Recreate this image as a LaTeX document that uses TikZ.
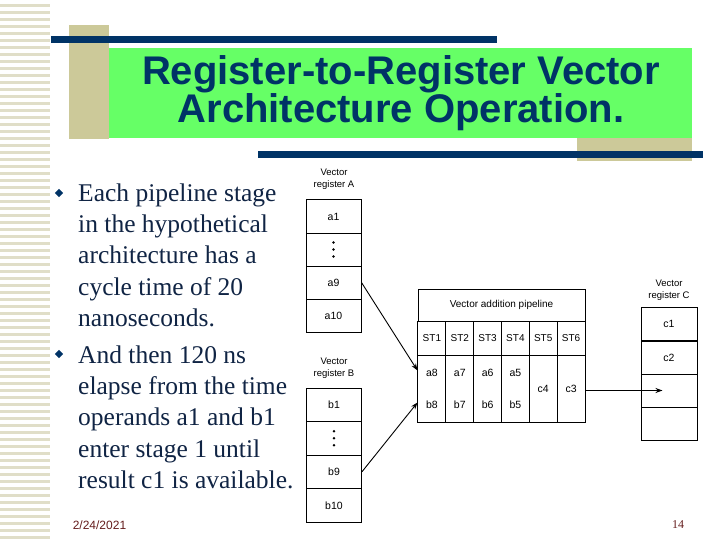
\documentclass[tikz,border=0pt]{standalone}
\usepackage{fontspec}
\setmainfont{Liberation Serif}
\setsansfont{Liberation Sans}
\usetikzlibrary{arrows.meta,shapes.geometric}

\definecolor{navy}{RGB}{0,51,102}
\definecolor{slidegreen}{RGB}{102,255,102}
\definecolor{khaki}{RGB}{204,201,153}
\definecolor{stripe}{RGB}{224,222,200}
\definecolor{bodytext}{RGB}{16,36,68}
\definecolor{footer}{RGB}{100,28,28}

\begin{document}
\begin{tikzpicture}[
    x=1pt, y=-1pt,
    regcell/.style={
        draw,
        line width=1pt,
        minimum width=55pt,
        minimum height=33pt,
        inner sep=0pt,
        font=\sffamily\fontsize{10.5}{12}\selectfont
    },
    stage/.style={
        draw,
        line width=1pt,
        minimum width=27.83pt,
        minimum height=34pt,
        inner sep=0pt,
        font=\sffamily\fontsize{10}{12}\selectfont
    },
    slot/.style={
        stage,
        minimum height=67pt,
        align=center,
        font=\sffamily\fontsize{10.5}{32}\selectfont
    },
    reglabel/.style={
        align=center,
        inner sep=0pt,
        font=\sffamily\fontsize{9.5}{12}\selectfont
    },
    bullet/.style={
        diamond,
        fill=navy,
        inner sep=0pt,
        minimum size=8.5pt
    },
    item/.style={
        anchor=north west,
        align=left,
        inner sep=0pt,
        text=bodytext,
        font=\fontsize{25.5}{31.2}\selectfont
    },
    heading/.style={
        anchor=base,
        inner sep=0pt,
        text=navy,
        font=\sffamily\bfseries\fontsize{40}{44}\selectfont
    },
    feed/.style={
        -{Stealth[length=7pt,width=5pt]},
        line width=0.9pt
    }
]
    \useasboundingbox (0,0) rectangle (720,540);

    % Slide decoration
    \foreach \y in {4,11,...,536}
        \fill[stripe] (0,\y) rectangle (50,\y+2.8);
    \fill[khaki] (69,25) rectangle (109,139);
    \fill[slidegreen] (109,48) rectangle (692,138);
    \fill[khaki] (577,138) rectangle (692,161);
    \fill[navy] (51,36) rectangle (497,43);
    \fill[navy] (258,151) rectangle (703,158);

    % Title
    \node[heading] (title1) at (401,85) {Register-to-Register Vector};
    \node[heading] (title2) at (401,123) {Architecture Operation.};

    % Bullets
    \node[bullet] (dotA) at (59,193) {};
    \node[item] (textA) at (78,183.6) {Each pipeline stage\\in the hypothetical\\architecture has a\\cycle time of 20\\nanoseconds.};
    \node[bullet] (dotB) at (59,354) {};
    \node[item] (textB) at (78,345.6) {And then 120 ns\\elapse from the time\\operands a1 and b1\\enter stage 1 until\\result c1 is available.};

    % Vector register A
    \node[reglabel] (labA) at (334,179) {Vector\\register A};
    \node[regcell] (a1) at (333.5,216.5) {a1};
    \node[regcell] (adots) at (333.5,249.5) {};
    \node[regcell] (a9) at (333.5,282.5) {a9};
    \node[regcell] (a10) at (333.5,315.5) {a10};
    \foreach \d in {-7,0,7}
        \fill ([yshift=\d pt]adots.center) circle (1.3);

    % Vector register B
    \node[reglabel] (labB) at (334,368) {Vector\\register B};
    \node[regcell, minimum height=33.5pt] (b1) at (334,404.75) {b1};
    \node[regcell, minimum height=33.5pt] (bdots) at (334,438.25) {};
    \node[regcell, minimum height=33.5pt] (b9) at (334,471.75) {b9};
    \node[regcell, minimum height=33.5pt] (b10) at (334,505.25) {b10};
    \foreach \d in {-7,0,7}
        \fill ([yshift=\d pt]bdots.center) circle (1.3);

    % Vector addition pipeline
    \node[draw, line width=1pt, minimum width=167pt, minimum height=32pt,
          inner sep=0pt, font=\sffamily\fontsize{10}{12}\selectfont]
        (pipe) at (501.5,305) {Vector addition pipeline};
    \node[stage] (st1) at (431.9,338) {ST1};
    \node[stage] (st2) at (459.75,338) {ST2};
    \node[stage] (st3) at (487.6,338) {ST3};
    \node[stage] (st4) at (515.4,338) {ST4};
    \node[stage] (st5) at (543.2,338) {ST5};
    \node[stage] (st6) at (571.1,338) {ST6};
    \node[slot] (s1) at (431.9,388.5) {\raisebox{-3pt}{a8}\\\raisebox{-3pt}{b8}};
    \node[slot] (s2) at (459.75,388.5) {\raisebox{-3pt}{a7}\\\raisebox{-3pt}{b7}};
    \node[slot] (s3) at (487.6,388.5) {\raisebox{-3pt}{a6}\\\raisebox{-3pt}{b6}};
    \node[slot] (s4) at (515.4,388.5) {\raisebox{-3pt}{a5}\\\raisebox{-3pt}{b5}};
    \node[slot] (s5) at (543.2,388.5) {\raisebox{-2pt}{c4}};
    \node[slot] (s6) at (571.1,388.5) {\raisebox{-2pt}{c3}};

    % Vector register C
    \node[reglabel] (labC) at (669,290) {Vector\\register C};
    \node[regcell, minimum width=56pt] (c1) at (669,324) {c1};
    \node[regcell, minimum width=56pt] (c2) at (669,357.5) {c2};
    \node[regcell, minimum width=56pt] (c3) at (669,390.5) {};
    \node[regcell, minimum width=56pt] (c4) at (669,423.5) {};

    % Data flow
    \draw[feed] (a9.east) -- ([yshift=18pt]s1.west);
    \draw[feed] (b9.east) -- ([yshift=-14pt]s1.west);
    \draw[feed] (s6.east |- c3.west) -- ([xshift=22pt]c3.west);

    % Footer
    \node[text=footer, font=\sffamily\fontsize{12}{14}\selectfont] (date) at (99.5,525) {2/24/2021};
    \node[text=footer, font=\fontsize{12}{14}\selectfont] (page) at (678,525) {14};

\end{tikzpicture}
\end{document}
